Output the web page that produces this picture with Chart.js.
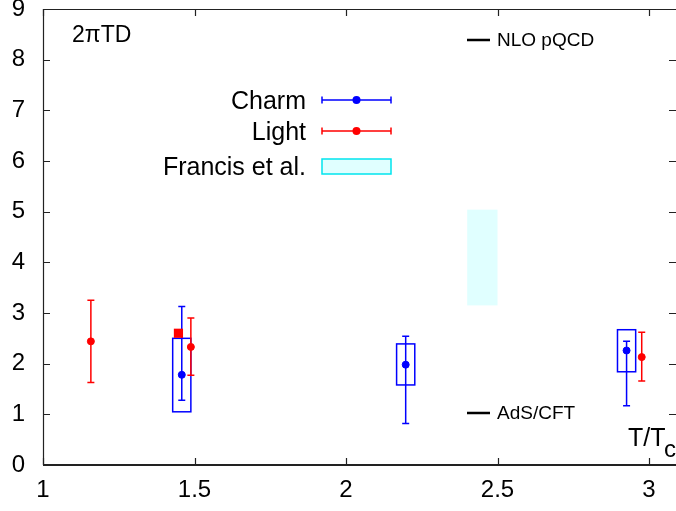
<!DOCTYPE html>
<html>
<head>
<meta charset="utf-8">
<title>2πTD</title>
<script src="https://cdn.jsdelivr.net/npm/chart.js@4.4.1/dist/chart.umd.min.js"></script>
<style>
    html, body { margin: 0; padding: 0; background: #fff; overflow: hidden; }
    #divDiffusion { width: 678px; height: 511px; }
</style>
</head>
<body>
<div id="divDiffusion"><canvas id="diffusion-chart" width="678" height="511"></canvas></div>
<script>
// values (x = T/Tc, y = 2πTD)
const charmT = [1.458, 2.197, 2.926];
const charmD = [1.78, 1.98, 2.26];
const charmErrLo = [1.28, 0.82, 1.17];
const charmErrHi = [3.13, 2.54, 2.44];
const charmSysLo = [1.05, 1.58, 1.84];
const charmSysHi = [2.50, 2.39, 2.67];
const charmSysHalfWidth = 0.03;

const lightT = [1.158, 1.488, 2.976];
const lightD = [2.44, 2.33, 2.13];
const lightErrLo = [1.63, 1.77, 1.66];
const lightErrHi = [3.25, 2.90, 2.62];

const extraT = [1.447];
const extraD = [2.60];

const francisT = [2.4, 2.5];
const francisD = [3.15, 5.04];

const xTicks = [1, 1.5, 2, 2.5, 3];
const yTicks = [0, 1, 2, 3, 4, 5, 6, 7, 8, 9];

const BLUE = '#0000ff';
const RED = '#ff0000';
const FONT = '"Liberation Sans", Arial, sans-serif';

function errorBar(ctx, x, yLo, yHi, color) {
    ctx.strokeStyle = color;
    ctx.lineWidth = 1.5;
    ctx.beginPath();
    ctx.moveTo(x, yLo); ctx.lineTo(x, yHi);
    ctx.moveTo(x - 3.5, yLo); ctx.lineTo(x + 3.5, yLo);
    ctx.moveTo(x - 3.5, yHi); ctx.lineTo(x + 3.5, yHi);
    ctx.stroke();
}

function legendKey(ctx, label, color, y, baseline) {
    ctx.fillStyle = '#000';
    ctx.textAlign = 'right';
    ctx.fillText(label, 306, baseline);
    ctx.strokeStyle = color;
    ctx.lineWidth = 1.5;
    ctx.beginPath();
    ctx.moveTo(322, y); ctx.lineTo(391, y);
    ctx.moveTo(322, y - 3.5); ctx.lineTo(322, y + 3.5);
    ctx.moveTo(391, y - 3.5); ctx.lineTo(391, y + 3.5);
    ctx.stroke();
    ctx.fillStyle = color;
    ctx.beginPath();
    ctx.arc(356.5, y, 4, 0, Math.PI * 2);
    ctx.fill();
}

const decorPlugin = {
    id: 'decor',
    beforeDatasetsDraw(chart) {
        const { ctx, scales: { x, y } } = chart;
        ctx.save();
        // Francis et al. band
        const bx0 = x.getPixelForValue(francisT[0]), bx1 = x.getPixelForValue(francisT[1]);
        const by0 = y.getPixelForValue(francisD[1]), by1 = y.getPixelForValue(francisD[0]);
        ctx.fillStyle = '#e0ffff';
        ctx.fillRect(bx0, by0, bx1 - bx0, by1 - by0);

        // charm systematic boxes
        ctx.strokeStyle = BLUE;
        ctx.lineWidth = 1.5;
        charmT.forEach((t, i) => {
            const l = x.getPixelForValue(t - charmSysHalfWidth);
            const r = x.getPixelForValue(t + charmSysHalfWidth);
            const top = y.getPixelForValue(charmSysHi[i]);
            const bot = y.getPixelForValue(charmSysLo[i]);
            ctx.strokeRect(l, top, r - l, bot - top);
        });

        charmT.forEach((t, i) => {
            errorBar(ctx, x.getPixelForValue(t), y.getPixelForValue(charmErrLo[i]), y.getPixelForValue(charmErrHi[i]), BLUE);
        });
        lightT.forEach((t, i) => {
            errorBar(ctx, x.getPixelForValue(t), y.getPixelForValue(lightErrLo[i]), y.getPixelForValue(lightErrHi[i]), RED);
        });
        ctx.restore();
    },
    afterDraw(chart) {
        const { ctx, chartArea: a, scales: { x, y } } = chart;
        ctx.save();
        // frame
        ctx.strokeStyle = '#222';
        ctx.lineWidth = 1.2;
        ctx.beginPath();
        ctx.moveTo(a.left + 0.5, a.bottom); ctx.lineTo(a.left + 0.5, a.top + 0.5);
        ctx.lineTo(a.right - 0.5, a.top + 0.5); ctx.lineTo(a.right - 0.5, a.bottom);
        ctx.stroke();
        ctx.lineWidth = 2;
        ctx.beginPath();
        ctx.moveTo(a.left, a.bottom); ctx.lineTo(a.right, a.bottom);
        ctx.stroke();

        // inward ticks
        ctx.lineWidth = 1.2;
        ctx.beginPath();
        x.ticks.forEach(tk => {
            const p = Math.round(x.getPixelForValue(tk.value)) + 0.5;
            ctx.moveTo(p, a.bottom); ctx.lineTo(p, a.bottom - 7);
            ctx.moveTo(p, a.top); ctx.lineTo(p, a.top + 7);
        });
        y.ticks.forEach(tk => {
            const p = Math.round(y.getPixelForValue(tk.value)) + 0.5;
            ctx.moveTo(a.left, p); ctx.lineTo(a.left + 7, p);
            ctx.moveTo(a.right, p); ctx.lineTo(a.right - 9, p);
        });
        ctx.stroke();

        // labels inside the frame
        ctx.fillStyle = '#000';
        ctx.textBaseline = 'alphabetic';
        ctx.textAlign = 'left';
        ctx.font = '23px ' + FONT;
        ctx.fillText('2πTD', 72, 42);

        ctx.font = '19px ' + FONT;
        ctx.fillText('NLO pQCD', 497, 46);
        ctx.fillText('AdS/CFT', 497, 419);
        ctx.lineWidth = 2.5;
        ctx.strokeStyle = '#000';
        ctx.beginPath();
        ctx.moveTo(467, 40); ctx.lineTo(490, 40);
        ctx.moveTo(467, 413); ctx.lineTo(490, 413);
        ctx.stroke();

        ctx.font = '25px ' + FONT;
        ctx.fillText('T/T', 628, 446);
        ctx.font = '24px ' + FONT;
        ctx.fillText('c', 664, 457);

        // legend
        ctx.font = '25px ' + FONT;
        legendKey(ctx, 'Charm', BLUE, 100, 109);
        legendKey(ctx, 'Light', RED, 131, 140);
        ctx.fillStyle = '#000';
        ctx.textAlign = 'right';
        ctx.fillText('Francis et al.', 306, 175);
        ctx.fillStyle = '#e0ffff';
        ctx.fillRect(322, 159, 69, 15);
        ctx.strokeStyle = '#00e5ee';
        ctx.lineWidth = 1.5;
        ctx.strokeRect(322, 159, 69, 15);
        ctx.restore();
    }
};

class DiffusionController {
    constructor() {
        this.chart = null
    }
    setup() {
        const toPoints = (xs, ys) => xs.map((v, i) => ({ x: v, y: ys[i] }));
        const data = {
            datasets: [
                {
                    label: 'Charm',
                    data: toPoints(charmT, charmD),
                    backgroundColor: BLUE,
                    borderColor: BLUE,
                    pointRadius: 3.5,
                    borderWidth: 1
                },
                {
                    label: 'Light',
                    data: toPoints(lightT, lightD),
                    backgroundColor: RED,
                    borderColor: RED,
                    pointRadius: 3.5,
                    borderWidth: 1
                },
                {
                    label: 'Light (extra)',
                    data: toPoints(extraT, extraD),
                    backgroundColor: RED,
                    borderColor: RED,
                    pointStyle: 'rect',
                    pointRadius: 6.5,
                    borderWidth: 0
                }
            ]
        };
        let ctx = document.getElementById('diffusion-chart');
        this.chart = new Chart(ctx, {
            type: 'scatter',
            data: data,
            plugins: [decorPlugin],
            options: {
                responsive: false,
                animation: false,
                layout: { autoPadding: false, padding: { top: 9, left: 0, right: 0, bottom: 0 } },
                plugins: {
                    legend: { display: false },
                    tooltip: { enabled: false }
                },
                scales: {
                    x: {
                        type: 'linear',
                        min: 1,
                        max: 1 + (678 - 43) / 303,
                        grid: { display: false, drawTicks: false },
                        border: { display: false },
                        afterBuildTicks: (s) => { s.ticks = xTicks.map(v => ({ value: v })); },
                        afterFit: (s) => { s.height = 46; s.paddingLeft = 0; s.paddingRight = 0; },
                        ticks: {
                            autoSkip: false,
                            maxRotation: 0,
                            padding: 11,
                            color: '#000',
                            font: { family: FONT, size: 24 },
                            callback: (v) => String(v)
                        }
                    },
                    y: {
                        min: 0,
                        max: 9,
                        grid: { display: false, drawTicks: false },
                        border: { display: false },
                        afterBuildTicks: (s) => { s.ticks = yTicks.map(v => ({ value: v })); },
                        afterFit: (s) => { s.width = 43; s.paddingTop = 0; s.paddingBottom = 0; },
                        ticks: {
                            padding: 18,
                            color: '#000',
                            font: { family: FONT, size: 24 },
                            callback: (v) => String(v)
                        }
                    }
                }
            }
        })
    }
}

var diffusionController = new DiffusionController();
diffusionController.setup();
</script>
</body>
</html>
